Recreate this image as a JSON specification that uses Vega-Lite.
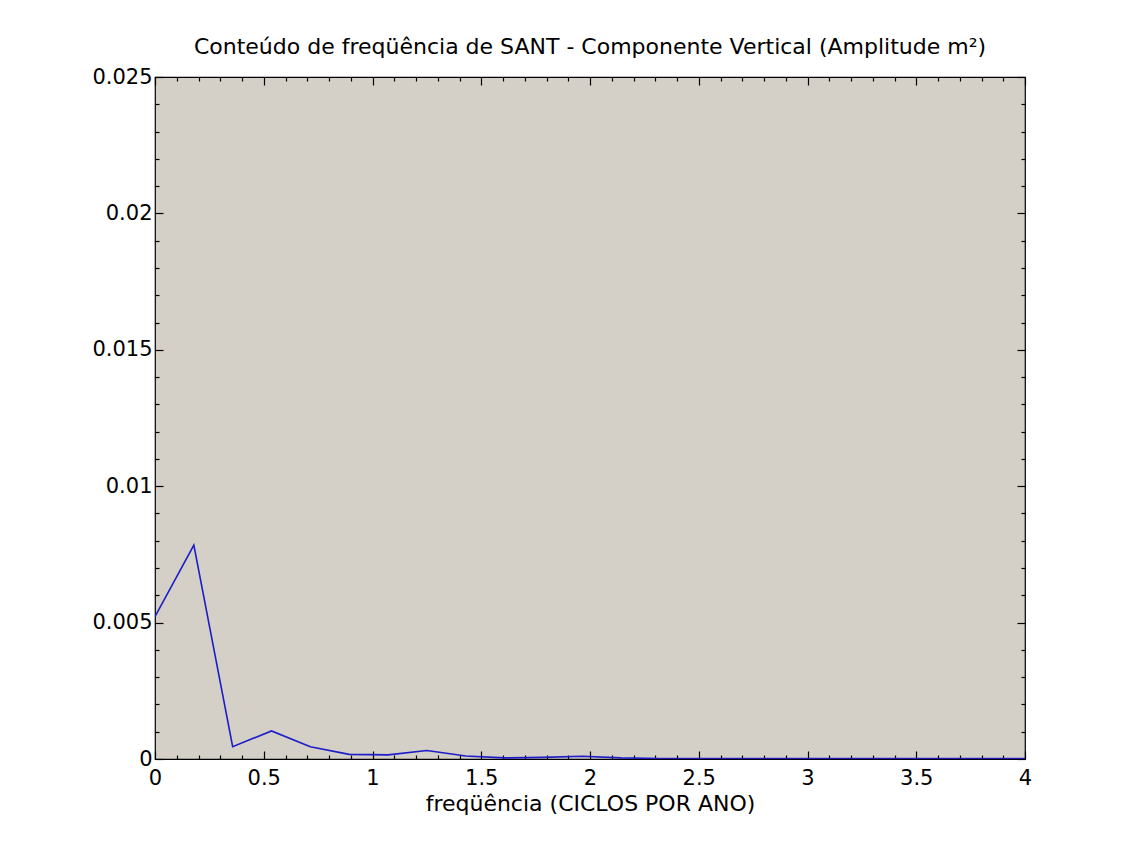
{
  "$schema": "https://vega.github.io/schema/vega-lite/v6.json",
  "autosize": {"type": "none"},
  "padding": {"left": 155, "top": 77, "right": 98, "bottom": 84},
  "width": 870,
  "height": 682,
  "background": "white",
  "title": {
    "text": "Conteúdo de freqüência de SANT - Componente Vertical (Amplitude m²)",
    "font": "DejaVu Sans",
    "fontSize": 22,
    "fontWeight": "normal",
    "color": "black",
    "anchor": "middle",
    "offset": 7
  },
  "config": {
    "view": {"fill": "#d4d0c8", "stroke": "black", "strokeWidth": 1.2},
    "axis": {
      "labelFont": "DejaVu Sans",
      "labelFontSize": 21,
      "labelColor": "black",
      "titleFont": "DejaVu Sans",
      "titleFontSize": 22,
      "titleFontWeight": "normal",
      "titleColor": "black",
      "domain": false,
      "grid": false,
      "tickColor": "black",
      "tickWidth": 1.2
    }
  },
  "data": {
    "values": [
      {"f": 0, "a": 0.00522},
      {"f": 0.1786, "a": 0.00784},
      {"f": 0.3571, "a": 0.00045},
      {"f": 0.5357, "a": 0.00103},
      {"f": 0.7143, "a": 0.00045},
      {"f": 0.8929, "a": 0.00017},
      {"f": 1.0714, "a": 0.00015},
      {"f": 1.25, "a": 0.00031},
      {"f": 1.4286, "a": 0.00011},
      {"f": 1.6071, "a": 0.00004},
      {"f": 1.7857, "a": 0.00006},
      {"f": 1.9643, "a": 0.0001},
      {"f": 2.1429, "a": 0.00004},
      {"f": 2.3214, "a": 0.00002},
      {"f": 2.5, "a": 0.00002},
      {"f": 2.6786, "a": 0.00002},
      {"f": 2.8571, "a": 0.00002},
      {"f": 3.0357, "a": 0.00002},
      {"f": 3.2143, "a": 0.00002},
      {"f": 3.3929, "a": 0.00002},
      {"f": 3.5714, "a": 0.00002},
      {"f": 3.75, "a": 0.00002},
      {"f": 3.9286, "a": 0.00002},
      {"f": 4.1071, "a": 0.00002}
    ]
  },
  "resolve": {"axis": {"x": "independent", "y": "independent"}},
  "layer": [
    {
      "mark": {"type": "line", "color": "#1c1cc8", "strokeWidth": 1.6, "clip": true},
      "encoding": {
        "x": {
          "field": "f", "type": "quantitative",
          "scale": {"domain": [0, 4], "nice": false, "zero": false},
          "axis": {
            "orient": "bottom",
            "title": "freqüência (CICLOS POR ANO)",
            "values": [0,0.1,0.2,0.3,0.4,0.5,0.6,0.7,0.8,0.9,1,1.1,1.2,1.3,1.4,1.5,1.6,1.7,1.8,1.9,2,2.1,2.2,2.3,2.4,2.5,2.6,2.7,2.8,2.9,3,3.1,3.2,3.3,3.4,3.5,3.6,3.7,3.8,3.9,4],
            "format": "~g",
            "labelExpr": "abs(datum.value*2-round(datum.value*2))<1e-6 ? datum.label : ''",
            "tickSize": {"condition": {"test": "abs(datum.value*2-round(datum.value*2))<1e-6", "value": -8}, "value": -4},
            "labelPadding": 16,
            "labelFlush": false,
            "labelOverlap": false,
            "titlePadding": 1
          }
        },
        "y": {
          "field": "a", "type": "quantitative",
          "scale": {"domain": [0, 0.025], "nice": false},
          "axis": {
            "orient": "left",
            "title": null,
            "values": [0,0.001,0.002,0.003,0.004,0.005,0.006,0.007,0.008,0.009,0.01,0.011,0.012,0.013,0.014,0.015,0.016,0.017,0.018,0.019,0.02,0.021,0.022,0.023,0.024,0.025],
            "format": "~g",
            "labelExpr": "abs(datum.value*200-round(datum.value*200))<1e-6 ? datum.label : ''",
            "tickSize": {"condition": {"test": "abs(datum.value*200-round(datum.value*200))<1e-6", "value": -8}, "value": -4},
            "labelPadding": 11,
            "labelFlush": false,
            "labelOverlap": false
          }
        }
      }
    },
    {
      "mark": {"type": "line", "color": "#1c1cc8", "strokeWidth": 1.5, "clip": true, "opacity": 0},
      "encoding": {
        "x": {
          "field": "f", "type": "quantitative",
          "axis": {
            "orient": "top",
            "title": null,
            "labels": false,
            "values": [0,0.1,0.2,0.3,0.4,0.5,0.6,0.7,0.8,0.9,1,1.1,1.2,1.3,1.4,1.5,1.6,1.7,1.8,1.9,2,2.1,2.2,2.3,2.4,2.5,2.6,2.7,2.8,2.9,3,3.1,3.2,3.3,3.4,3.5,3.6,3.7,3.8,3.9,4],
            "tickSize": {"condition": {"test": "abs(datum.value*2-round(datum.value*2))<1e-6", "value": -8}, "value": -4}
          }
        },
        "y": {
          "field": "a", "type": "quantitative",
          "axis": {
            "orient": "right",
            "title": null,
            "labels": false,
            "values": [0,0.001,0.002,0.003,0.004,0.005,0.006,0.007,0.008,0.009,0.01,0.011,0.012,0.013,0.014,0.015,0.016,0.017,0.018,0.019,0.02,0.021,0.022,0.023,0.024,0.025],
            "tickSize": {"condition": {"test": "abs(datum.value*200-round(datum.value*200))<1e-6", "value": -8}, "value": -4}
          }
        }
      }
    }
  ]
}
